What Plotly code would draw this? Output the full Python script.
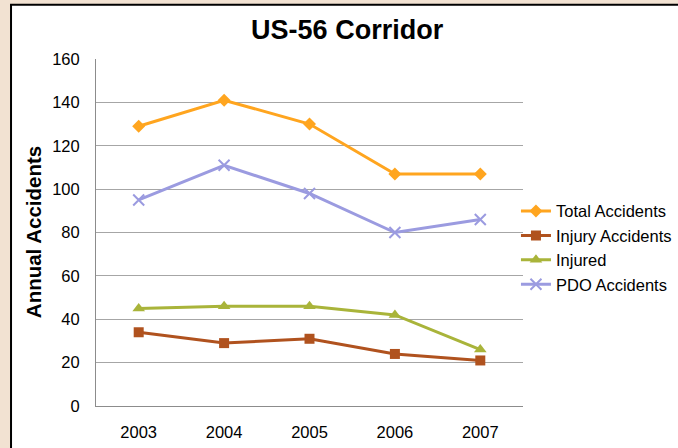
import plotly.graph_objects as go

# ─────────────────────────────────────────────────────────────
# DATA
# ─────────────────────────────────────────────────────────────
years = ["2003", "2004", "2005", "2006", "2007"]
total_accidents = [129, 141, 130, 107, 107]
injury_accidents = [34, 29, 31, 24, 21]
injured = [45, 46, 46, 42, 26]
pdo_accidents = [95, 111, 98, 80, 86]

y_ticks = [0, 20, 40, 60, 80, 100, 120, 140, 160]

FONT = "Liberation Sans, Arial, sans-serif"

series = [
    ("Total Accidents", total_accidents, "#FFA51F", dict(symbol="diamond", size=10)),
    ("Injury Accidents", injury_accidents, "#B0521E", dict(symbol="square", size=10)),
    ("Injured", injured, "#A9B43A", dict(symbol="triangle-up", size=11)),
    ("PDO Accidents", pdo_accidents, "#9B9BE0",
     dict(symbol="x-thin", size=11, line=dict(width=2, color="#9B9BE0"))),
]

fig = go.Figure()
for name, vals, color, marker in series:
    fig.add_trace(go.Scatter(
        x=years, y=vals, name=name,
        mode="lines+markers",
        line=dict(color=color, width=3),
        marker=dict(color=color, **marker),
    ))

fig.update_layout(
    width=678, height=448,
    paper_bgcolor="#F2E2D2",
    plot_bgcolor="white",
    margin=dict(l=96, r=155, t=59, b=42, autoexpand=False),
    font=dict(family=FONT, size=16, color="black"),
    title=dict(text="<b>US-56 Corridor</b>", x=0.512, xanchor="center",
               y=0.933, yanchor="middle", xref="container", yref="container",
               font=dict(size=27, color="black")),
    legend=dict(x=0.761, xanchor="left", y=0.447, yanchor="middle",
                xref="container", yref="container",
                font=dict(size=16.5), bgcolor="rgba(0,0,0,0)",
                tracegroupgap=0, itemwidth=30),
    showlegend=True,
)

fig.update_xaxes(
    type="category", range=[-0.5, 4.5], automargin=False,
    showgrid=False, showline=True, linecolor="#8C8C8C", linewidth=1,
    ticks="", tickfont=dict(size=16.5), ticklabelstandoff=11,
)
fig.update_yaxes(
    range=[0, 160], tickvals=y_ticks, automargin=False,
    showgrid=True, gridcolor="#A6A6A6", gridwidth=1,
    showline=True, linecolor="#8C8C8C", linewidth=1,
    zeroline=False, ticks="", tickfont=dict(size=16.5), ticklabelstandoff=12,
)

# white chart panel with dark border
fig.add_shape(type="rect", xref="paper", yref="paper",
              x0=-0.199, x1=1.4, y0=-0.25, y1=1.156,
              fillcolor="white", line=dict(color="black", width=2),
              layer="below")

fig.add_annotation(text="<b>Annual Accidents</b>", xref="paper", yref="paper",
                   x=-0.146, y=0.5, xanchor="center", yanchor="middle",
                   showarrow=False, textangle=-90,
                   font=dict(size=20.5, color="black"))

# page has a default 8px body margin; drop it so the figure sits at (0, 0)
fig.write_html("out.html", config={"displayModeBar": False},
               post_script="document.body.style.margin='0';document.body.style.overflow='hidden';")
